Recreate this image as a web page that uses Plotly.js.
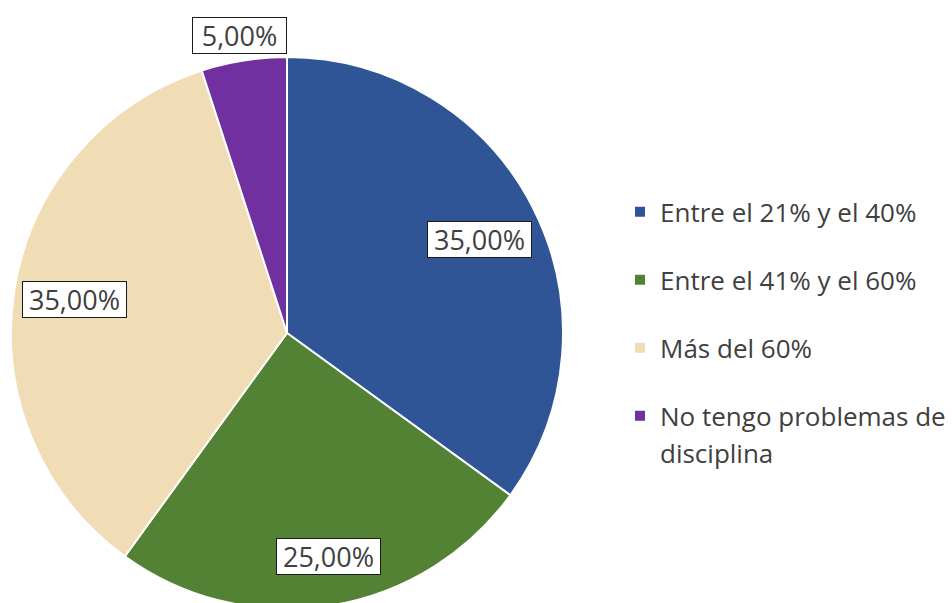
<!DOCTYPE html>
<html>
<head>
<meta charset="utf-8">
<script src="https://cdn.plot.ly/plotly-3.0.1.min.js"></script>
<style>
html,body{margin:0;padding:0;background:#fff;overflow:hidden;}
#chart{width:952px;height:620px;}
</style>
</head>
<body>
<div id="chart"></div>
<script>
// ---- data ----
var categories = ["Entre el 21% y el 40%", "Entre el 41% y el 60%", "Más del 60%", "No tengo problemas de<br>disciplina"];
var values = [35, 25, 35, 5];
var valueLabels = ["35,00%", "25,00%", "35,00%", "5,00%"];
var colors = ["#2F5597", "#548235", "#F0DCB5", "#7030A0"];

// ---- layout geometry ----
var W = 952, H = 620;
var cx = 287, cy = 333, R = 276;
var labelRadius = [0.776, 0.82, 0.78, 1.092];
var labelXShift = [2, 6, 0, 0];
var labelYShift = [-4, 0, 0, 0];
var LEG_TXT = 26;

var legendNames = categories.map(function (c) {
  var lines = c.split("<br>");
  var first = '<span style="font-size:' + LEG_TXT + 'px">' + lines[0] + '</span>';
  if (lines.length === 1) return first + "<br>&nbsp;";
  return first + '<br><sub><span style="font-size:' + LEG_TXT + 'px">' + lines[1] + '</span></sub>';
});

var total = values.reduce(function (a, b) { return a + b; }, 0);
var annotations = [];
var cum = 0;
for (var i = 0; i < values.length; i++) {
  var mid = (cum + values[i] / 2) / total * 2 * Math.PI;
  cum += values[i];
  var px = cx + Math.sin(mid) * R * labelRadius[i];
  var py = cy - Math.cos(mid) * R * labelRadius[i];
  annotations.push({
    x: px / W, y: 1 - py / H, xref: "paper", yref: "paper",
    xanchor: "center", yanchor: "middle",
    xshift: labelXShift[i], yshift: labelYShift[i],
    text: valueLabels[i], showarrow: false,
    font: {family: "Open Sans, sans-serif", size: 27, color: "#404040"},
    width: valueLabels[i].length > 5 ? 99 : 89, height: 31,
    bgcolor: "#FFFFFF", bordercolor: "#1a1a1a", borderwidth: 1, borderpad: 2
  });
}

var trace = {
  type: "pie",
  labels: legendNames,
  values: values,
  sort: false,
  direction: "clockwise",
  rotation: 0,
  textinfo: "none",
  hoverinfo: "none",
  marker: {colors: colors, line: {color: "#FFFFFF", width: 2}},
  domain: {x: [(cx - R) / W, (cx + R) / W], y: [(H - cy - R) / H, (H - cy + R) / H]}
};

var layout = {
  width: W, height: H,
  margin: {l: 0, r: 0, t: 0, b: 0},
  paper_bgcolor: "#FFFFFF",
  showlegend: true,
  legend: {
    x: 620 / W, xanchor: "left",
    y: 1 - 189 / H, yanchor: "top",
    valign: "top",
    font: {family: "Open Sans, sans-serif", size: 25, color: "#404040"},
    bgcolor: "rgba(0,0,0,0)"
  },
  annotations: annotations
};

Plotly.newPlot("chart", [trace], layout, {displayModeBar: false, staticPlot: true});
</script>
</body>
</html>
